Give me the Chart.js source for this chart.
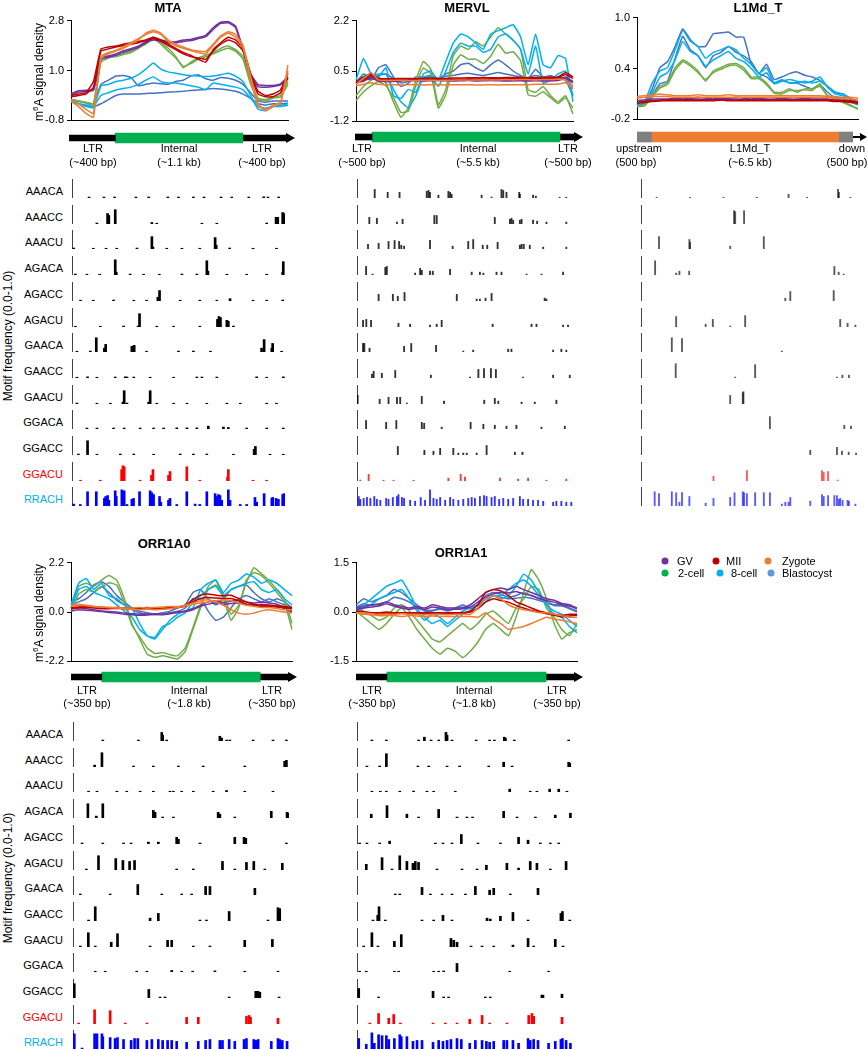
<!DOCTYPE html>
<html><head><meta charset="utf-8">
<script src="https://cdn.jsdelivr.net/npm/chart.js@4.4.0/dist/chart.umd.min.js"></script>
<style>
body{margin:0;background:#fff;}
#page{position:relative;width:867px;height:1050px;overflow:hidden;font-family:"Liberation Sans",Arial,sans-serif;color:#000;background:#fff;}
canvas{position:absolute;}
.t{position:absolute;white-space:nowrap;font-size:11px;line-height:1;}
.dot{position:absolute;width:7px;height:7px;border-radius:50%;transform:translate(-50%,-50%);}
</style></head><body><div id="page"></div>
<script>
// ---------------- DATA ----------------
const stageNames = ['GV','MII','Zygote','2-cell','8-cell','Blastocyst'];
const motifNames = ['AAACA','AAACC','AAACU','AGACA','AGACC','AGACU','GAACA','GAACC','GAACU','GGACA','GGACC','GGACU','RRACH'];

// y tick labels (ascending)
const mtaTicks = ['-0.8','1.0','2.8'];
const mervlTicks = ['-1.2','0.5','2.2'];
const l1mdTicks = ['-0.2','0.4','1.0'];
const orr0Ticks = ['-2.2','0.0','2.2'];
const orr1Ticks = ['-1.5','0.0','1.5'];

// gene structure segment lengths (bp)
const mtaGene = [400,1100,400];
const mervlGene = [500,5500,500];
const l1mdGene = [500,6500,500];
const orr0Gene = [350,1800,350];
const orr1Gene = [350,1800,350];

// ---- MTA m6A signal (two replicates per stage) ----
const mtaGV = [
 [0.16,0.27,0.29,0.3,1.49,1.52,1.6,1.71,1.79,1.88,2.04,2.16,2.1,2.04,2.04,2.1,2.12,2.19,2.27,2.54,2.74,2.77,2.6,1.77,0.88,0.49,0.46,0.46,0.52,0.77],
 [0.1,0.22,0.25,0.28,1.4,1.48,1.55,1.66,1.75,1.83,2.0,2.1,2.06,2.0,2.0,2.05,2.08,2.15,2.22,2.48,2.7,2.72,2.55,1.7,0.8,0.42,0.4,0.42,0.48,0.7]];
const mtaMII = [
 [0.1,0.15,0.2,0.6,1.77,1.85,1.88,1.95,2.0,2.05,2.1,2.2,2.1,1.95,1.8,1.65,1.55,1.4,1.3,1.75,2.0,2.2,2.1,1.8,0.9,0.25,0.1,0.15,0.3,0.9],
 [0.05,0.1,0.15,0.4,1.7,1.78,1.85,1.9,1.95,2.0,2.08,2.15,2.05,1.9,1.75,1.6,1.5,1.45,1.4,1.7,1.95,2.1,2.0,1.7,0.8,0.15,0.05,0.05,0.2,0.75]];
const mtaZygote = [
 [-0.12,-0.3,-0.55,-0.68,1.45,1.6,1.7,1.8,1.95,2.1,2.35,2.45,2.35,2.1,1.95,1.85,1.75,1.7,1.68,1.95,2.25,2.4,2.3,1.9,0.8,-0.2,-0.45,-0.3,-0.2,1.2],
 [-0.05,-0.2,-0.4,-0.55,1.5,1.65,1.72,1.85,2.0,2.15,2.3,2.4,2.3,2.05,1.9,1.8,1.72,1.65,1.6,1.9,2.2,2.35,2.2,1.8,0.7,-0.3,-0.4,-0.25,-0.15,1.0]];
const mta2cell = [
 [-0.05,-0.1,-0.15,-0.2,1.4,1.5,1.55,1.6,1.7,1.85,2.0,2.2,2.0,1.8,1.5,1.1,1.3,1.45,1.55,1.65,1.8,1.88,1.75,1.5,0.6,0.0,-0.05,0.05,0.1,0.6],
 [-0.1,-0.12,-0.18,-0.25,1.3,1.45,1.5,1.58,1.65,1.8,1.95,2.15,1.95,1.7,1.45,1.15,1.25,1.4,1.5,1.6,1.72,1.8,1.7,1.4,0.5,-0.05,-0.1,0.0,0.05,0.5]];
const mta8cell = [
 [-0.05,-0.2,-0.3,-0.35,0.45,0.5,0.6,0.65,0.72,0.85,1.05,1.27,1.05,0.95,0.9,0.85,0.82,0.8,0.78,0.8,0.85,0.9,0.8,0.6,0.1,-0.4,-0.45,-0.3,-0.25,-0.2],
 [-0.1,-0.2,-0.25,-0.3,0.1,0.2,0.3,0.35,0.4,0.5,0.65,0.77,0.6,0.55,0.55,0.5,0.45,0.4,0.3,0.55,0.5,0.45,0.4,0.3,0.0,-0.3,-0.35,-0.3,-0.3,-0.25]];
const mtaBlast = [
 [-0.05,-0.1,-0.15,-0.2,0.5,0.65,0.8,0.82,0.75,0.45,0.5,0.55,0.52,0.5,0.6,0.65,0.8,0.85,0.7,0.65,0.75,0.72,0.65,0.5,0.2,-0.1,-0.15,-0.1,-0.1,-0.1],
 [-0.1,-0.2,-0.25,-0.3,-0.2,-0.05,0.1,0.15,0.15,0.15,0.17,0.18,0.2,0.22,0.23,0.25,0.28,0.3,0.32,0.35,0.33,0.3,0.25,0.15,0.0,-0.2,-0.25,-0.2,-0.2,-0.18]];

// ---- MERVL ----
const mervlGV = [
 [0.1,0.15,0.3,0.15,0.16,0.17,0.2,0.22,0.2,0.18,0.2,0.22,0.2,0.19,0.2,0.21,0.2,0.19,0.2,0.22,0.2,0.18,0.19,0.2,0.19,0.2,0.18,0.2,0.3,0.15],
 [0.12,0.18,0.25,0.18,0.14,0.15,0.16,0.18,0.17,0.16,0.17,0.18,0.17,0.16,0.17,0.18,0.16,0.17,0.18,0.17,0.16,0.17,0.17,0.16,0.17,0.16,0.17,0.18,0.25,0.1]];
const mervlMII = [
 [0.15,0.3,0.4,0.25,0.24,0.24,0.25,0.25,0.24,0.25,0.26,0.25,0.25,0.26,0.26,0.27,0.27,0.28,0.27,0.27,0.28,0.28,0.28,0.27,0.28,0.28,0.29,0.3,0.45,0.3],
 [0.1,0.2,0.35,0.2,0.2,0.2,0.21,0.2,0.2,0.21,0.22,0.21,0.22,0.22,0.22,0.23,0.23,0.23,0.24,0.23,0.24,0.24,0.24,0.25,0.25,0.25,0.25,0.27,0.38,0.25]];
const mervlZygote = [
 [0.05,0.25,0.45,0.2,0.18,0.18,0.19,0.18,0.18,0.19,0.19,0.18,0.19,0.19,0.2,0.19,0.2,0.2,0.2,0.2,0.21,0.2,0.21,0.21,0.2,0.21,0.21,0.22,0.2,0.0],
 [0.0,0.05,0.1,0.05,0.04,0.04,0.03,0.04,0.04,0.03,0.04,0.04,0.03,0.04,0.04,0.04,0.03,0.03,0.04,0.03,0.04,0.04,0.04,0.04,0.05,0.05,0.05,0.06,0.1,-0.07]];
const mervl2cell = [
 [-0.33,-0.02,0.19,0.3,0.09,-0.54,-1.06,-0.74,0.19,0.82,0.56,-0.64,-0.12,1.02,1.34,1.23,1.49,1.34,1.65,1.96,1.75,1.54,1.23,-0.12,-0.22,-0.02,-0.33,-0.54,-0.33,-0.95],
 [-0.5,-0.2,0.0,0.15,0.0,-0.4,-0.9,-0.85,0.0,0.6,0.4,-0.75,-0.3,0.7,1.05,0.9,0.9,0.75,1.0,1.4,1.1,1.15,0.85,-0.3,-0.35,-0.2,-0.4,-0.6,-0.4,-0.75]];
const mervl8cell = [
 [0.19,0.92,0.4,0.3,0.61,-0.33,-0.43,-0.12,-0.22,0.4,0.5,0.19,0.82,1.44,1.75,1.65,1.44,1.23,1.75,1.86,1.96,2.06,1.65,0.71,1.75,0.71,0.61,1.02,0.92,-0.54],
 [0.09,0.4,0.3,0.4,0.4,-0.12,-0.54,-0.74,-0.33,0.3,0.3,-0.02,0.5,1.13,1.44,1.34,1.34,1.13,1.23,1.65,1.75,1.54,1.23,0.4,1.34,0.09,0.19,0.4,0.5,-0.33]];
const mervlBlast = [
 [0.09,0.4,0.19,0.61,0.71,0.3,-0.02,0.09,0.3,0.3,0.35,0.24,0.4,0.5,0.71,0.76,0.61,0.5,0.71,0.87,0.71,0.5,0.35,0.24,0.56,0.3,0.35,0.24,0.19,-0.33],
 [0.15,0.25,0.2,0.35,0.4,0.25,0.1,0.15,0.25,0.28,0.3,0.25,0.32,0.35,0.4,0.42,0.38,0.35,0.4,0.45,0.4,0.35,0.3,0.28,0.35,0.3,0.3,0.28,0.25,-0.1]];

// ---- L1Md_T ----
const l1mdGV = [
 [0.02,0.03,0.04,0.04,0.04,0.05,0.04,0.05,0.06,0.05,0.04,0.05,0.05,0.06,0.05,0.04,0.05,0.04,0.04,0.05,0.04,0.04,0.05,0.04,0.04,0.04,0.03,0.03,0.02,0.01],
 [0.0,0.01,0.02,0.03,0.03,0.03,0.03,0.04,0.04,0.03,0.03,0.04,0.04,0.04,0.03,0.03,0.04,0.03,0.03,0.03,0.03,0.03,0.03,0.03,0.03,0.03,0.02,0.02,0.01,0.0]];
const l1mdMII = [
 [0.0,0.01,0.02,0.02,0.03,0.03,0.03,0.03,0.03,0.03,0.03,0.03,0.03,0.03,0.03,0.03,0.03,0.03,0.03,0.03,0.03,0.03,0.03,0.03,0.03,0.03,0.02,0.02,0.02,0.0],
 [-0.01,0.0,0.01,0.02,0.02,0.02,0.02,0.02,0.02,0.02,0.02,0.03,0.02,0.02,0.02,0.02,0.02,0.02,0.02,0.02,0.02,0.02,0.02,0.02,0.02,0.02,0.01,0.01,0.0,-0.01]];
const l1mdZygote = [
 [0.07,0.08,0.09,0.1,0.09,0.08,0.08,0.08,0.09,0.08,0.08,0.08,0.09,0.08,0.08,0.08,0.08,0.08,0.08,0.08,0.08,0.08,0.08,0.08,0.08,0.07,0.07,0.06,0.06,0.05],
 [0.05,0.06,0.07,0.07,0.07,0.06,0.06,0.06,0.06,0.06,0.06,0.06,0.06,0.06,0.06,0.06,0.06,0.06,0.06,0.06,0.06,0.06,0.06,0.06,0.06,0.06,0.05,0.05,0.04,0.03]];
const l1md2cell = [
 [-0.04,-0.03,0.08,0.19,0.23,0.41,0.5,0.45,0.37,0.25,0.37,0.41,0.45,0.46,0.41,0.3,0.3,0.23,0.12,0.12,0.16,0.12,0.16,0.16,0.19,0.08,0.05,0.01,-0.03,-0.08],
 [-0.05,-0.04,0.06,0.17,0.21,0.38,0.48,0.43,0.35,0.27,0.35,0.39,0.43,0.44,0.38,0.28,0.28,0.21,0.11,0.1,0.14,0.14,0.15,0.14,0.22,0.07,0.04,0.0,-0.04,-0.07]];
const l1md8cell = [
 [-0.03,0.01,0.23,0.37,0.41,0.62,0.85,0.72,0.66,0.52,0.59,0.62,0.66,0.62,0.52,0.45,0.34,0.41,0.23,0.27,0.23,0.23,0.25,0.23,0.25,0.19,0.12,0.1,0.04,-0.03],
 [-0.02,0.0,0.12,0.3,0.35,0.5,0.72,0.6,0.55,0.43,0.5,0.55,0.6,0.52,0.48,0.4,0.3,0.35,0.22,0.25,0.27,0.25,0.23,0.25,0.3,0.18,0.1,0.08,0.03,-0.02]];
const l1mdBlast = [
 [-0.03,-0.01,0.16,0.41,0.48,0.66,0.87,0.74,0.66,0.66,0.81,0.82,0.83,0.77,0.77,0.45,0.34,0.3,0.23,0.26,0.23,0.23,0.19,0.16,0.21,0.12,0.06,0.05,0.01,-0.03],
 [-0.03,-0.01,0.09,0.22,0.25,0.52,0.78,0.62,0.55,0.41,0.55,0.59,0.66,0.59,0.55,0.48,0.34,0.45,0.27,0.3,0.34,0.36,0.32,0.3,0.26,0.19,0.12,0.1,0.05,0.0]];

// ---- ORR1A0 ----
const orr0GV = [
 [0.15,0.2,0.15,0.1,0.05,0.02,0.0,-0.05,-0.08,-0.1,-0.1,-0.08,-0.1,-0.05,0.0,0.05,0.15,0.3,0.45,0.5,0.42,0.48,0.52,0.45,0.4,0.45,0.4,0.35,0.2,0.05],
 [0.05,0.1,0.08,0.05,0.02,-0.02,-0.05,-0.1,-0.12,-0.15,-0.13,-0.1,-0.12,-0.08,-0.02,0.02,0.1,0.25,0.35,0.4,0.35,0.38,0.4,0.35,0.3,0.35,0.3,0.25,0.15,0.0]];
const orr0MII = [
 [0.2,0.22,0.25,0.22,0.2,0.18,0.2,0.18,0.17,0.18,0.2,0.18,0.17,0.2,0.22,0.3,0.55,0.75,0.8,0.75,0.72,0.75,0.6,0.45,0.35,0.3,0.3,0.28,0.25,0.2],
 [0.15,0.18,0.2,0.18,0.15,0.15,0.16,0.15,0.14,0.15,0.16,0.15,0.15,0.17,0.2,0.25,0.45,0.6,0.65,0.62,0.6,0.6,0.5,0.35,0.3,0.25,0.25,0.22,0.2,0.15]];
const orr0Zygote = [
 [0.3,0.35,0.3,0.25,0.22,0.2,0.18,0.15,0.12,0.1,0.12,0.1,0.12,0.15,0.2,0.3,0.4,0.5,0.55,0.45,0.3,0.1,-0.05,-0.1,-0.05,0.05,0.1,0.05,0.0,-0.05],
 [0.25,0.3,0.28,0.25,0.22,0.2,0.2,0.18,0.18,0.2,0.18,0.2,0.22,0.25,0.25,0.28,0.35,0.4,0.45,0.5,0.55,0.5,0.4,0.3,0.25,0.2,0.2,0.15,0.1,0.1]];
const orr02cell = [
 [0.18,1.14,1.28,1.14,1.42,1.62,1.42,0.59,-0.51,-1.2,-1.88,-2.02,-1.95,-2.02,-2.09,-1.75,-0.78,0.18,1.14,1.42,0.59,-0.37,0.18,1.42,1.76,1.62,1.28,0.87,0.45,-0.78],
 [0.0,0.8,1.0,0.9,1.1,1.3,1.2,0.4,-0.6,-1.1,-1.6,-1.85,-1.8,-1.9,-1.95,-1.6,-0.7,0.3,1.0,1.2,0.8,-0.1,0.3,1.3,1.97,1.7,1.4,1.0,0.6,-0.5]];
const orr08cell = [
 [0.32,1.28,1.49,1.0,1.28,0.73,0.59,0.32,0.18,-0.51,-1.06,-1.2,-0.78,-0.37,-0.1,0.04,0.18,1.0,1.28,1.42,0.87,1.28,1.42,1.69,1.55,1.28,1.42,1.28,1.0,0.73],
 [0.18,1.0,1.14,0.87,0.73,0.59,0.32,0.04,-0.23,-0.78,-1.06,-1.13,-0.65,-0.51,-0.23,-0.03,0.45,0.73,1.0,1.14,0.73,1.0,1.14,1.28,1.35,1.0,0.87,1.0,0.59,0.32]];
const orr0Blast = [
 [0.45,0.59,0.87,1.21,1.35,1.14,0.73,0.45,0.18,0.04,-0.03,-0.1,-0.03,0.04,0.18,0.32,0.87,1.0,0.59,0.32,0.59,1.0,1.14,1.21,0.87,0.59,0.45,0.59,0.45,0.18],
 [0.32,0.45,0.59,0.87,1.14,0.87,0.52,0.32,0.11,-0.03,-0.1,-0.12,-0.1,-0.03,0.04,0.18,0.59,0.59,0.04,-0.37,-0.23,0.18,0.59,0.73,0.59,0.45,0.59,0.45,0.32,0.18]];

// ---- ORR1A1 ----
const orr1GV = [
 [0.12,0.17,0.22,0.22,0.31,0.22,0.17,0.12,0.17,0.12,0.22,0.17,0.12,0.12,0.12,0.22,0.4,0.59,0.68,0.73,0.68,0.78,0.68,0.59,0.5,0.4,0.36,0.26,0.22,0.12],
 [0.08,0.12,0.15,0.18,0.25,0.18,0.12,0.08,0.12,0.08,0.15,0.12,0.08,0.08,0.1,0.15,0.3,0.45,0.55,0.6,0.58,0.62,0.55,0.5,0.42,0.35,0.3,0.22,0.18,0.1]];
const orr1MII = [
 [0.03,0.01,-0.02,-0.02,0.0,-0.02,-0.02,-0.02,-0.02,-0.02,-0.02,-0.02,-0.02,-0.02,-0.02,0.03,0.22,0.59,0.68,0.64,0.5,0.31,0.22,0.12,0.03,-0.02,-0.07,-0.11,-0.07,-0.07],
 [0.0,-0.02,-0.03,-0.04,-0.03,-0.04,-0.03,-0.04,-0.04,-0.03,-0.04,-0.04,-0.03,-0.04,-0.03,0.0,0.1,0.3,0.4,0.35,0.3,0.2,0.12,0.05,0.0,-0.05,-0.1,-0.15,-0.12,-0.1]];
const orr1Zygote = [
 [-0.02,-0.02,-0.05,-0.07,-0.07,-0.07,-0.05,-0.07,-0.07,-0.08,-0.07,-0.07,-0.08,-0.07,-0.07,-0.07,0.12,0.4,0.5,0.4,0.22,0.12,0.07,0.03,-0.02,-0.02,-0.07,-0.11,-0.16,-0.16],
 [-0.02,-0.07,-0.08,-0.11,-0.11,-0.11,-0.14,-0.11,-0.12,-0.14,-0.12,-0.13,-0.14,-0.14,-0.14,-0.14,-0.16,-0.02,-0.21,-0.35,-0.53,-0.49,-0.44,-0.35,-0.25,-0.16,-0.21,-0.25,-0.3,-0.35]];
const orr12cell = [
 [0.03,-0.16,-0.35,-0.53,-0.35,-0.07,0.12,-0.16,-0.53,-0.82,-1.1,-1.28,-1.1,-1.19,-1.38,-1.19,-0.91,-0.53,-0.35,-0.53,-0.72,-0.16,0.59,1.29,0.97,0.4,-0.35,-0.82,-0.63,-0.53],
 [0.12,0.03,-0.11,-0.25,-0.16,0.12,0.22,0.03,-0.25,-0.53,-0.82,-0.91,-0.72,-0.53,-0.35,-0.53,-0.35,-0.07,0.03,-0.16,-0.35,0.12,0.4,0.78,0.68,0.12,-0.16,-0.53,-0.72,-0.35]];
const orr18cell = [
 [0.12,0.22,0.4,0.59,0.78,0.87,0.97,0.59,0.12,-0.16,-0.35,-0.25,-0.44,-0.25,-0.07,0.03,0.12,0.31,0.5,0.4,0.5,0.78,1.15,0.97,0.59,0.22,-0.07,-0.16,-0.44,-0.63],
 [0.03,0.12,0.22,0.4,0.5,0.59,0.68,0.4,0.03,-0.25,-0.07,-0.16,-0.35,-0.16,0.03,0.12,0.22,0.4,0.5,0.5,0.68,0.87,0.97,0.78,0.5,0.22,0.03,-0.07,-0.25,-0.44]];
const orr1Blast = [
 [0.22,0.4,0.31,0.4,0.5,0.68,0.59,0.4,0.22,0.03,0.03,0.12,0.03,0.12,0.22,0.12,0.22,0.5,0.59,0.54,0.45,0.5,0.59,0.5,0.4,0.31,0.22,0.22,0.12,0.03],
 [0.15,0.25,0.2,0.25,0.3,0.45,0.4,0.3,0.15,0.05,0.05,0.08,0.05,0.1,0.15,0.1,0.2,0.4,0.5,0.45,0.4,0.42,0.45,0.42,0.35,0.28,0.2,0.18,0.1,0.0]];

// ---- Motif frequency peaks: [relative position 0-100, frequency 0-1], in motifNames order ----
const mtaPeaks = [
 [[8,0.05],[15,0.05],[20,0.05],[30,0.05],[36,0.05],[45,0.05],[50,0.05],[57,0.05],[62,0.05],[70,0.05],[75,0.05],[83,0.05],[90,0.06],[92,0.05],[97,0.05]],
 [[11.7,0.05],[16.7,0.55],[17.3,0.45],[20.3,0.75],[37.5,0.08],[39.8,0.04],[61,0.04],[68,0.04],[91.4,0.05],[95.8,0.35],[96.6,0.35],[98.9,0.6],[99.4,0.55]],
 [[0.8,0.05],[10,0.04],[16,0.04],[21,0.04],[30.5,0.05],[37.5,0.65],[38,0.1],[44.5,0.04],[51.6,0.04],[60,0.04],[67.2,0.6],[67.7,0.2],[74,0.05],[85,0.04],[96,0.04]],
 [[1.6,0.05],[7,0.04],[13,0.04],[20.3,0.8],[20.8,0.15],[27.3,0.05],[33.6,0.04],[41,0.04],[51.6,0.05],[58.6,0.05],[63.3,0.75],[63.8,0.2],[72.7,0.04],[82,0.04],[91.4,0.04],[98.9,0.15],[99.2,0.7]],
 [[4,0.04],[10,0.04],[19.5,0.05],[29,0.04],[35,0.04],[40.3,0.2],[41.1,0.55],[50.8,0.04],[60,0.04],[68,0.04],[74.2,0.12],[85,0.04],[91.4,0.04],[98.9,0.05]],
 [[1.6,0.04],[13.3,0.04],[24.2,0.05],[31,0.05],[31.7,0.7],[39.8,0.04],[47.7,0.04],[60,0.04],[68.3,0.4],[69,0.55],[69.7,0.5],[72.7,0.35],[73.4,0.3],[75.8,0.05]],
 [[2.3,0.04],[8.6,0.05],[11.4,0.75],[15.2,0.2],[15.8,0.4],[28.1,0.3],[29.2,0.35],[35,0.04],[50,0.05],[57,0.05],[65,0.04],[89,0.2],[90.2,0.65],[93.8,0.2],[94.2,0.45],[98.4,0.04]],
 [[2.3,0.04],[7.3,0.06],[11.7,0.04],[20.3,0.05],[25,0.06],[25.8,0.05],[29,0.05],[36.7,0.04],[47.7,0.04],[58.6,0.05],[61,0.05],[68,0.05],[86.7,0.06],[91.4,0.04],[99.2,0.06]],
 [[2.3,0.05],[11.7,0.04],[18,0.04],[23.9,0.1],[24.5,0.7],[25.8,0.05],[36,0.1],[36.7,0.7],[39.8,0.04],[47.7,0.04],[54,0.04],[63.3,0.04],[72.7,0.04],[79,0.04],[91.4,0.04],[96,0.04]],
 [[7,0.05],[11.7,0.05],[19.5,0.05],[24.5,0.05],[32,0.05],[38.3,0.05],[43,0.05],[49.2,0.06],[54,0.06],[58.6,0.06],[64,0.15],[71.1,0.1],[73.4,0.08],[82,0.05],[91.4,0.05],[99.2,0.05]],
 [[3,0.05],[7.3,0.75],[11.7,0.04],[22.7,0.05],[29,0.05],[38.3,0.04],[50.8,0.05],[57,0.05],[63.3,0.05],[75.8,0.04],[85.5,0.3],[86.1,0.45],[93,0.04],[99.2,0.04]],
 [[4,0.04],[13.3,0.04],[23.3,0.6],[23.9,0.8],[24.5,0.75],[32,0.04],[37.3,0.3],[38,0.6],[45.3,0.3],[46,0.5],[53.9,0.75],[60,0.04],[73,0.2],[73.4,0.6],[85,0.04],[91.4,0.04]],
 [[0.8,0.1],[3.9,0.08],[7.3,0.75],[11.4,0.75],[15.2,0.4],[15.8,0.5],[16.7,0.55],[17.3,0.3],[20.3,0.8],[20.8,0.5],[23.4,0.85],[24,0.75],[24.5,0.8],[25.8,0.08],[28.1,0.35],[28.9,0.4],[31.7,0.75],[36.7,0.8],[37.5,0.7],[38.3,0.6],[41.1,0.5],[41.7,0.2],[45.3,0.3],[46,0.4],[49.2,0.08],[53.9,0.75],[57.8,0.1],[60,0.08],[63.3,0.75],[67.2,0.65],[68,0.5],[68.8,0.6],[69.5,0.55],[70.3,0.3],[73.4,0.85],[74.2,0.3],[79,0.08],[82,0.08],[85.9,0.45],[86.7,0.2],[90.2,0.65],[93.8,0.4],[94.2,0.45],[95.8,0.4],[96.9,0.35],[98.9,0.6],[99.5,0.65]]
];
const mervlPeaks = [
 [[8.2,0.45],[14.2,0.3],[19.7,0.3],[32.3,0.35],[33.1,0.4],[33.8,0.3],[37.7,0.15],[42.3,0.35],[43.1,0.3],[43.8,0.2],[57.7,0.15],[62.3,0.05],[66.9,0.45],[67.7,0.4],[69.2,0.3],[75.1,0.3],[75.4,0.2],[81.5,0.15],[82.8,0.1],[93.8,0.04],[96.9,0.04]],
 [[5.7,0.35],[9.2,0.3],[18.5,0.1],[21.1,0.25],[35.8,0.45],[36.9,0.45],[63.8,0.35],[70.8,0.25],[71.5,0.3],[72.3,0.2],[75.4,0.2],[76.2,0.25],[81.5,0.2],[83.4,0.15],[87.7,0.1],[96.9,0.1]],
 [[5.1,0.25],[10,0.3],[14.6,0.4],[17.4,0.45],[19.5,0.4],[20.5,0.2],[21.8,0.15],[33.8,0.45],[44.3,0.15],[51.5,0.4],[53.8,0.5],[58.2,0.2],[60.3,0.2],[65.1,0.35],[75.4,0.2],[76.2,0.25],[77.2,0.25],[80,0.2],[86.2,0.1],[96.9,0.1]],
 [[4.2,0.45],[7.2,0.05],[13.1,0.4],[13.8,0.45],[26.9,0.1],[29.2,0.35],[30,0.25],[33.8,0.2],[35.1,0.2],[43.1,0.3],[53.1,0.15],[56.9,0.15],[58.5,0.1],[64.6,0.15],[66.9,0.15],[78.5,0.05],[85.4,0.05],[95.4,0.15]],
 [[10,0.35],[16.6,0.35],[18.9,0.25],[22,0.45],[46.2,0.35],[55.4,0.1],[56.9,0.1],[59.5,0.15],[62.3,0.4],[86.9,0.15],[87.7,0.1]],
 [[2.8,0.35],[4.3,0.4],[6.5,0.35],[19.2,0.2],[24.6,0.15],[33.8,0.1],[36.9,0.15],[39.2,0.35],[62.8,0.15],[80.8,0.15],[83.1,0.15],[95.4,0.1],[97.7,0.1]],
 [[2.8,0.45],[3.4,0.45],[5.8,0.2],[21.8,0.3],[25.1,0.45],[36.6,0.35],[49.2,0.05],[53.8,0.1],[70,0.15],[71.5,0.15],[90.8,0.1],[94.6,0.15],[96.9,0.1]],
 [[6.9,0.2],[7.7,0.35],[11.5,0.25],[17.7,0.4],[34.2,0.15],[52.3,0.05],[56.2,0.45],[58.8,0.5],[62,0.5],[64.3,0.45],[76.9,0.05],[90.8,0.15],[98.5,0.15]],
 [[0.3,0.45],[10.5,0.25],[14.6,0.35],[18.5,0.35],[20,0.35],[23.1,0.05],[30,0.4],[40.3,0.15],[58.9,0.2],[63.8,0.3],[65.4,0.15],[76.2,0.1],[82.3,0.1],[92.3,0.2]],
 [[4.2,0.45],[13.5,0.35],[18.2,0.45],[30,0.35],[31.1,0.3],[39.2,0.1],[52.6,0.35],[58.5,0.25],[63.8,0.2],[69.2,0.15],[73.8,0.2],[85.4,0.1],[96.2,0.15]],
 [[18.9,0.45],[31.2,0.25],[35.4,0.2],[38.5,0.35],[44.6,0.35],[46.9,0.1],[49.2,0.1],[50.8,0.1],[55.4,0.1],[60,0.5],[73.1,0.15],[76.6,0.15]],
 [[1.5,0.05],[5.4,0.35],[12.3,0.04],[16.9,0.04],[26.2,0.04],[42.3,0.15],[48,0.35],[50,0.2],[66.2,0.15],[74.6,0.1],[79.2,0.15],[87.7,0.04],[96.9,0.1]],
 [[0.8,0.5],[1.5,0.35],[3.1,0.4],[4.6,0.45],[6.2,0.4],[8,0.5],[9.2,0.35],[10.8,0.3],[13.5,0.4],[14.6,0.35],[16.6,0.45],[18.5,0.5],[19.2,0.6],[20.8,0.45],[21.8,0.4],[24.6,0.3],[26.9,0.25],[29.5,0.45],[31.5,0.3],[33.8,0.85],[35.4,0.4],[36.9,0.35],[38.5,0.45],[40.8,0.3],[43.1,0.45],[44.6,0.35],[46.9,0.3],[49.2,0.35],[51.5,0.4],[53.1,0.45],[54.6,0.4],[56.9,0.5],[58.8,0.55],[60,0.5],[62.3,0.45],[63.8,0.5],[65.8,0.35],[67.7,0.4],[70,0.35],[72.3,0.4],[75.4,0.5],[76.9,0.35],[79.2,0.35],[81.5,0.3],[83.8,0.3],[86.2,0.25],[90.8,0.2],[92.3,0.25],[94.6,0.25],[96.9,0.2],[99.2,0.2]]
];
const l1mdPeaks = [
 [[7.2,0.04],[22.6,0.04],[38,0.04],[53.4,0.04],[68,0.2],[76.5,0.04],[90.8,0.45],[91.2,0.3],[96.5,0.04]],
 [[42.9,0.7],[43.4,0.65],[47.5,0.7]],
 [[8.3,0.65],[22.3,0.5],[22.6,0.35],[41.1,0.15],[56.6,0.65]],
 [[6.5,0.75],[16.2,0.1],[17.7,0.2],[22.2,0.2],[89.1,0.45],[91.1,0.15],[93.4,0.05]],
 [[66.5,0.15],[68.8,0.5],[88.8,0.55]],
 [[16.2,0.55],[29.8,0.15],[33.1,0.4],[41.1,0.05],[48,0.6],[91.8,0.4],[95.2,0.2],[98.8,0.1]],
 [[14.2,0.75],[18.9,0.7],[64.9,0.05]],
 [[16,0.75],[43.4,0.05],[52.6,0.7],[90.3,0.05],[92.8,0.15],[95.8,0.15]],
 [[41.1,0.45],[46.9,0.6],[47.2,0.65]],
 [[59.4,0.65],[93.7,0.2],[96.8,0.15]],
 [[78,0.25],[90.3,0.4],[92.6,0.2],[95.7,0.15],[99.1,0.1]],
 [[33.4,0.25],[48.8,0.55],[83.4,0.55],[84.2,0.45],[86.2,0.5],[90.6,0.05]],
 [[6.3,0.75],[8.3,0.65],[14.2,0.75],[16.2,0.7],[17.7,0.2],[18.9,0.7],[22.3,0.5],[29.8,0.15],[33.4,0.4],[41.1,0.45],[43.1,0.7],[46.9,0.75],[47.5,0.7],[48.8,0.65],[52.6,0.7],[56.6,0.7],[59.4,0.7],[64.9,0.1],[66.5,0.2],[68,0.2],[68.8,0.45],[78,0.25],[83.4,0.6],[84.2,0.5],[86.2,0.55],[89.1,0.55],[90.3,0.55],[91.1,0.35],[91.8,0.4],[92.9,0.3],[95.2,0.3],[95.8,0.25],[98.8,0.1]]
];
const orr0Peaks = [
 [[13.8,0.05],[30.3,0.05],[41.1,0.45],[41.5,0.3],[43.4,0.05],[68,0.25],[68.8,0.15],[71.1,0.05],[72.6,0.05],[83.4,0.05],[92.6,0.05],[98.8,0.05]],
 [[10,0.1],[13.4,0.75],[28,0.05],[37.2,0.05],[48.8,0.05],[60.3,0.05],[79.5,0.05],[98,0.3],[98.8,0.35]],
 [[7.2,0.04],[11.1,0.04],[20.3,0.04],[24.9,0.04],[31.1,0.04],[37.2,0.04],[44.9,0.04],[46.5,0.04],[50.3,0.04],[55.7,0.04],[64.9,0.04],[71.1,0.08],[79.5,0.04],[92.6,0.04]],
 [[6.9,0.75],[10.8,0.1],[13.8,0.75],[37.2,0.4],[38,0.3],[41.5,0.05],[46.5,0.05],[67.2,0.3],[68,0.2],[74.9,0.05],[91.8,0.35],[99.1,0.3],[99.5,0.25]],
 [[4.2,0.05],[13.8,0.05],[23.4,0.05],[26.9,0.05],[34.9,0.1],[39.5,0.1],[48,0.35],[48.8,0.25],[58.8,0.05],[74.9,0.35],[79.2,0.35],[80,0.3],[98.8,0.05]],
 [[6.2,0.05],[11.8,0.75],[19.8,0.6],[23.1,0.5],[26.2,0.45],[28.5,0.5],[48,0.05],[55.7,0.05],[69.2,0.45],[74.9,0.05],[80.3,0.4],[83.7,0.45],[88.8,0.05],[96.9,0.35]],
 [[3.4,0.05],[17.2,0.05],[30,0.55],[41.1,0.05],[50.3,0.05],[54.9,0.05],[61.4,0.45],[63.4,0.45],[84.2,0.35]],
 [[7.2,0.05],[10.3,0.75],[35.7,0.15],[39.5,0.4],[58.8,0.05],[61.8,0.05],[72.3,0.5],[90.3,0.05],[94.9,0.7],[95.7,0.65]],
 [[3.4,0.05],[7.1,0.75],[10.3,0.05],[17.7,0.25],[20.6,0.7],[35.7,0.05],[43.8,0.35],[45.7,0.35],[55.7,0.05],[63.4,0.05],[79.5,0.35],[92.3,0.4]],
 [[10.3,0.04],[14.9,0.04],[29.5,0.04],[34.2,0.04],[45.7,0.08],[50.3,0.04],[55.4,0.04],[65.7,0.06],[79.5,0.04],[94.9,0.04]],
 [[0.6,0.75],[35.1,0.45],[40.3,0.05],[42.6,0.05],[72.3,0.05],[84.6,0.35],[85.7,0.35],[86.5,0.3],[95.4,0.05]],
 [[2.6,0.05],[10,0.75],[17.2,0.7],[24.2,0.05],[34.2,0.05],[52.6,0.35],[58,0.35],[80.3,0.4],[81.5,0.45],[82.2,0.35],[94.9,0.3]],
 [[0.6,0.8],[4.2,0.05],[10,0.8],[11.1,0.8],[13.4,0.8],[13.8,0.65],[17.2,0.6],[19.5,0.55],[20.6,0.6],[23.4,0.5],[26.9,0.45],[28.5,0.55],[30,0.55],[34.2,0.45],[36.5,0.5],[39.5,0.5],[41.5,0.45],[43.8,0.45],[45.7,0.45],[48,0.4],[52.6,0.35],[58,0.4],[61.4,0.45],[63.4,0.5],[68,0.45],[69.2,0.45],[72.3,0.5],[74.9,0.4],[79.2,0.5],[80.3,0.55],[83.7,0.5],[84.6,0.45],[85.7,0.5],[91.8,0.4],[94.9,0.55],[95.7,0.5],[96.9,0.45],[99.1,0.4]]
];
const orr1Peaks = [
 [[6.9,0.05],[13.6,0.05],[28.5,0.05],[31.2,0.2],[34.3,0.05],[37.8,0.05],[41.2,0.45],[41.7,0.3],[44,0.05],[55.2,0.05],[61.4,0.05],[63.6,0.05],[68.2,0.2],[68.7,0.15],[72.8,0.05],[98,0.05]],
 [[4.6,0.05],[10.5,0.05],[13.6,0.7],[28.2,0.05],[33.2,0.05],[41.7,0.05],[47.5,0.05],[61,0.05],[67.9,0.25],[71.8,0.05],[98,0.25],[98.5,0.2]],
 [[6.9,0.04],[10.8,0.04],[13.6,0.04],[19.8,0.04],[26.2,0.05],[32.4,0.04],[35.5,0.04],[45.5,0.04],[70.7,0.15],[80.2,0.04],[83.3,0.04],[89.2,0.15],[93.4,0.15],[97.2,0.04]],
 [[6.6,0.2],[13.9,0.65],[23.1,0.2],[28.5,0.05],[37.8,0.45],[46.3,0.05],[50.9,0.05],[53.5,0.05],[67.9,0.35],[74.1,0.05],[82.6,0.05],[91.8,0.15],[98.8,0.25]],
 [[1.2,0.05],[4.6,0.05],[10.5,0.05],[15.1,0.15],[36.3,0.05],[39.8,0.05],[44,0.05],[48.3,0.5],[56,0.05],[66.4,0.05],[74.8,0.35],[79.2,0.2],[84.9,0.05],[89.5,0.05],[93.4,0.05]],
 [[4.3,0.3],[11.6,0.65],[16.2,0.05],[19.8,0.75],[23.1,0.45],[25.9,0.35],[27,0.45],[28.5,0.4],[37,0.05],[48.6,0.05],[55.6,0.05],[59.9,0.25],[69.4,0.35],[74.8,0.1],[80.2,0.45],[83.3,0.35],[89.5,0.05],[96.8,0.45]],
 [[17.7,0.05],[19.8,0.05],[30.1,0.4],[34,0.05],[39.4,0.05],[44,0.05],[50.2,0.05],[54.8,0.45],[61.4,0.25],[63.3,0.35],[71,0.05],[83.8,0.35]],
 [[7.4,0.05],[9.6,0.3],[10.2,0.75],[13.1,0.05],[30.1,0.05],[35.5,0.05],[39.8,0.3],[44,0.05],[60.2,0.15],[61.7,0.1],[66.4,0.25],[72.2,0.45],[79.2,0.05],[94.4,0.4],[95.1,0.5],[98.5,0.05]],
 [[3.1,0.05],[6.9,0.75],[9.7,0.05],[17.3,0.3],[20.5,0.65],[43.5,0.45],[44.8,0.35],[46.3,0.25],[52.8,0.05],[57.9,0.05],[63.3,0.05],[72.2,0.1],[79.2,0.45],[81.8,0.05],[91.8,0.4],[95.4,0.05]],
 [[1.2,0.04],[4.3,0.04],[17.3,0.04],[19.3,0.04],[35.5,0.04],[37.8,0.04],[40.1,0.05],[46.3,0.45],[70.7,0.04],[88.7,0.04]],
 [[0.8,0.5],[10,0.05],[35.2,0.35],[40.1,0.05],[42.4,0.05],[59.4,0.05],[61.7,0.05],[85.6,0.15],[86.1,0.15],[94.9,0.2]],
 [[5.9,0.05],[10,0.55],[14.7,0.3],[17,0.5],[20.1,0.05],[35.2,0.05],[40.9,0.05],[46.3,0.05],[52.2,0.25],[57.9,0.45],[61.4,0.05],[69.4,0.05],[79.5,0.45],[81,0.55],[81.8,0.4],[94.9,0.35]],
 [[0.8,0.55],[4.3,0.25],[6.9,0.85],[8,0.3],[10,0.75],[11.6,0.7],[13.6,0.7],[14.7,0.5],[17.3,0.55],[19.8,0.75],[20.5,0.65],[23.1,0.65],[25.9,0.4],[27.8,0.45],[30.1,0.45],[35.2,0.35],[37.8,0.45],[39.8,0.4],[41.7,0.45],[43.5,0.5],[46.3,0.55],[48.3,0.5],[52.2,0.3],[54.8,0.45],[57.9,0.45],[59.9,0.4],[61.4,0.35],[63.3,0.4],[67.9,0.45],[69.4,0.45],[72.2,0.45],[74.8,0.3],[79.2,0.55],[80.2,0.45],[81.8,0.5],[83.8,0.45],[88.7,0.3],[91.8,0.4],[94.4,0.5],[95.1,0.55],[96.8,0.45],[98.8,0.3]]
];

// ---------------- STYLES / LAYOUT ----------------
const FONT = '"Liberation Sans", Arial, sans-serif';
Chart.defaults.font.family = FONT;
Chart.defaults.animation = false;
const lineColors = {'GV':'#7030A0','MII':'#C00000','Zygote':'#ED7D31','2-cell':'#70AD47','8-cell':'#00B0F0','Blastocyst':'#4472C4'};
const legendColors = {'GV':'#7030A0','MII':'#C00000','Zygote':'#ED7D31','2-cell':'#00B050','8-cell':'#00B0F0','Blastocyst':'#5B9BD5'};
const drawOrder = ['Zygote','MII','GV','8-cell','2-cell','Blastocyst']; // first = on top
const page = document.getElementById('page');

function txt(html, x, y, o) {
  o = o || {};
  const d = document.createElement('div');
  d.className = 't'; d.innerHTML = html;
  d.style.left = x + 'px'; d.style.top = y + 'px';
  if (o.size) d.style.fontSize = o.size + 'px';
  if (o.bold) d.style.fontWeight = 'bold';
  if (o.color) d.style.color = o.color;
  let tr = o.align === 'right' ? 'translate(-100%,-50%)' : (o.align === 'left' ? 'translate(0,-50%)' : 'translate(-50%,-50%)');
  if (o.rot) tr += ' rotate(-90deg)';
  d.style.transform = tr;
  page.appendChild(d);
}
function mkCanvas(left, top, w, h) {
  const c = document.createElement('canvas');
  c.width = w; c.height = h;
  c.style.left = left + 'px'; c.style.top = top + 'px';
  c.style.width = w + 'px'; c.style.height = h + 'px';
  page.appendChild(c);
  return c;
}

// ---- line charts ----
function lineChart(p) {
  const YW = 45, PT = 8, PR = 4, PB = 3;
  const w = (p.right - p.left) + YW + PR, h = (p.bottom - p.top) + PT + PB;
  const c = mkCanvas(p.left - YW, p.top - PT, w, h);
  const n = p.series['GV'][0].length;
  const datasets = [];
  drawOrder.forEach(st => {
    p.series[st].forEach(rep => {
      datasets.push({data: rep, borderColor: lineColors[st], borderWidth: 1.5, pointRadius: 0, tension: 0.12, fill: false});
    });
  });
  const tickVals = p.ticks.map(parseFloat);
  new Chart(c, {
    type: 'line',
    data: {labels: Array.from({length: n}, (_, i) => i), datasets},
    options: {
      responsive: false, animation: false, events: [],
      layout: {padding: {top: PT, right: PR, bottom: PB, left: 0}},
      plugins: {legend: {display: false}, tooltip: {enabled: false}},
      scales: {
        x: {type: 'category', offset: false, ticks: {display: false}, grid: {display: false},
            border: {display: true, color: '#000', width: 1}, afterFit: s => { s.height = 0; }},
        y: {min: tickVals[0], max: tickVals[tickVals.length - 1],
            afterBuildTicks: s => { s.ticks = tickVals.map(v => ({value: v})); },
            ticks: {callback: (v, i) => p.ticks[i], font: {family: FONT, size: 11}, color: '#000', padding: 3, autoSkip: false},
            grid: {drawOnChartArea: false, color: '#000', tickLength: 4},
            border: {color: '#000', width: 1},
            afterFit: s => { s.width = YW; }}
      }
    }
  });
}

// ---- gene structure bars ----
const arrowPlugin = {
  id: 'arrowHead',
  afterDatasetsDraw(chart, args, opts) {
    const last = chart.getDatasetMeta(chart.data.datasets.length - 1).data[0];
    const x = last.x, y = last.y, ctx = chart.ctx;
    ctx.save(); ctx.fillStyle = '#000';
    if (opts.style === 'line') {
      ctx.fillRect(x, y - 1, 9, 2);
      ctx.beginPath(); ctx.moveTo(x + 7, y - 4); ctx.lineTo(x + 14, y); ctx.lineTo(x + 7, y + 4); ctx.closePath(); ctx.fill();
    } else {
      ctx.beginPath(); ctx.moveTo(x - 3, y - 5); ctx.lineTo(x + 6, y); ctx.lineTo(x - 3, y + 5); ctx.closePath(); ctx.fill();
    }
    ctx.restore();
  }
};
function geneChart(g) {
  const PL = 1, PR = 15;
  const c = mkCanvas(g.start - PL, g.y - 8, (g.end - g.start) + PL + PR, 16);
  const total = g.segs.reduce((a, b) => a + b, 0);
  new Chart(c, {
    type: 'bar',
    data: {labels: [''], datasets: g.segs.map((v, i) => ({data: [v], backgroundColor: g.colors[i], barThickness: g.thick[i], borderWidth: 0}))},
    options: {
      indexAxis: 'y', responsive: false, animation: false, events: [],
      layout: {padding: {left: PL, right: PR, top: 0, bottom: 0}},
      plugins: {legend: {display: false}, tooltip: {enabled: false}, arrowHead: {style: g.arrow}},
      scales: {x: {display: false, stacked: true, min: 0, max: total}, y: {display: false, stacked: true}}
    },
    plugins: [arrowPlugin]
  });
}

// ---- motif tracks ----
function trackChart(x0, x1, base, peaks, color, thick) {
  const c = mkCanvas(x0 - 1, base - 19, (x1 - x0) + 2, 20);
  new Chart(c, {
    type: 'bar',
    data: {datasets: [{data: peaks.map(p => ({x: p[0], y: p[1]})), backgroundColor: color, barThickness: thick, borderWidth: 0}]},
    options: {
      responsive: false, animation: false, events: [],
      layout: {padding: {left: 1, right: 1, top: 1, bottom: 0}},
      plugins: {legend: {display: false}, tooltip: {enabled: false}},
      scales: {
        x: {type: 'linear', min: 0, max: 100, offset: false, ticks: {display: false}, grid: {display: false},
            border: {color: '#d4d4d4', width: 1}, afterFit: s => { s.height = 0; }},
        y: {min: 0, max: 1, ticks: {display: false}, grid: {display: false},
            border: {color: '#444', width: 1}, afterFit: s => { s.width = 0; }}
      }
    }
  });
}

// ---------------- BUILD ----------------
const linePanels = [
  {left: 71, right: 288, top: 19, bottom: 127, ticks: mtaTicks,
   series: {'GV': mtaGV, 'MII': mtaMII, 'Zygote': mtaZygote, '2-cell': mta2cell, '8-cell': mta8cell, 'Blastocyst': mtaBlast}},
  {left: 356, right: 573, top: 19, bottom: 128, ticks: mervlTicks,
   series: {'GV': mervlGV, 'MII': mervlMII, 'Zygote': mervlZygote, '2-cell': mervl2cell, '8-cell': mervl8cell, 'Blastocyst': mervlBlast}},
  {left: 637, right: 858, top: 16, bottom: 126, ticks: l1mdTicks,
   series: {'GV': l1mdGV, 'MII': l1mdMII, 'Zygote': l1mdZygote, '2-cell': l1md2cell, '8-cell': l1md8cell, 'Blastocyst': l1mdBlast}},
  {left: 71, right: 292, top: 561, bottom: 668, ticks: orr0Ticks,
   series: {'GV': orr0GV, 'MII': orr0MII, 'Zygote': orr0Zygote, '2-cell': orr02cell, '8-cell': orr08cell, 'Blastocyst': orr0Blast}},
  {left: 356, right: 577, top: 561, bottom: 668, ticks: orr1Ticks,
   series: {'GV': orr1GV, 'MII': orr1MII, 'Zygote': orr1Zygote, '2-cell': orr12cell, '8-cell': orr18cell, 'Blastocyst': orr1Blast}}
];
linePanels.forEach(lineChart);

const LTRc = ['#000', '#00B050', '#000'], LTRt = [6, 10, 6];
geneChart({start: 69, end: 289, y: 138, segs: mtaGene, colors: LTRc, thick: LTRt, arrow: 'head'});
geneChart({start: 355, end: 577, y: 137, segs: mervlGene, colors: LTRc, thick: LTRt, arrow: 'head'});
geneChart({start: 637, end: 853, y: 137, segs: l1mdGene, colors: ['#808080', '#ED7D31', '#808080'], thick: [10, 10, 10], arrow: 'line'});
geneChart({start: 71, end: 291, y: 677, segs: orr0Gene, colors: LTRc, thick: LTRt, arrow: 'head'});
geneChart({start: 356, end: 577, y: 677, segs: orr1Gene, colors: LTRc, thick: LTRt, arrow: 'head'});

// motif panels
const motifColor = (k, alpha) => k === 11 ? 'rgba(255,0,0,' + alpha + ')' : (k === 12 ? 'rgba(0,0,255,' + alpha + ')' : 'rgba(0,0,0,' + alpha + ')');
const motifPanels = [
  {x0: 72, x1: 285, base0: 197, peaks: mtaPeaks, thick: 2, alpha: 1, labels: true},
  {x0: 357, x1: 573, base0: 197, peaks: mervlPeaks, thick: 1.2, alpha: 0.8, labels: false},
  {x0: 641, x1: 858, base0: 197, peaks: l1mdPeaks, thick: 1.2, alpha: 0.65, labels: false},
  {x0: 73, x1: 289, base0: 740, peaks: orr0Peaks, thick: 2, alpha: 1, labels: true},
  {x0: 357, x1: 573, base0: 740, peaks: orr1Peaks, thick: 2, alpha: 1, labels: false}
];
motifPanels.forEach(mp => {
  motifNames.forEach((name, k) => {
    const base = Math.round(mp.base0 + k * 25.7);
    trackChart(mp.x0, mp.x1, base, mp.peaks[k], motifColor(k, mp.alpha), mp.thick);
    if (mp.labels) {
      const col = k === 11 ? '#FF0000' : (k === 12 ? '#00B0F0' : '#000');
      txt(name, 63, base - 6, {align: 'right', color: col});
    }
  });
});

// titles
txt('MTA', 168, 7, {bold: true, size: 13});
txt('MERVL', 467, 7, {bold: true, size: 13});
txt('L1Md_T', 758, 7, {bold: true, size: 13});
txt('ORR1A0', 164, 543, {bold: true, size: 13});
txt('ORR1A1', 461, 552, {bold: true, size: 13});

// axis titles
txt('m<sup style="font-size:8px;line-height:0">6</sup>A signal density', 39, 72, {size: 12, rot: true});
txt('m<sup style="font-size:8px;line-height:0">6</sup>A signal density', 39, 613, {size: 12, rot: true});
txt('Motif frequency (0.0-1.0)', 8, 336, {size: 12, rot: true});
txt('Motif frequency (0.0-1.0)', 8, 878, {size: 12, rot: true});

// gene labels
[[93,'LTR','(~400 bp)'],[179,'Internal','(~1.1 kb)'],[262,'LTR','(~400 bp)']].forEach(a => { txt(a[1], a[0], 148); txt(a[2], a[0], 162); });
[[362,'LTR','(~500 bp)'],[478,'Internal','(~5.5 kb)'],[568,'LTR','(~500 bp)']].forEach(a => { txt(a[1], a[0], 148); txt(a[2], a[0], 162); });
txt('upstream', 639, 148); txt('(500 bp)', 636, 162);
txt('L1Md_T', 750, 148); txt('(~6.5 kb)', 750, 162);
txt('down', 852, 148); txt('(500 bp)', 847, 162);
[[87,'LTR','(~350 bp)'],[189,'Internal','(~1.8 kb)'],[272,'LTR','(~350 bp)']].forEach(a => { txt(a[1], a[0], 690); txt(a[2], a[0], 703); });
[[372,'LTR','(~350 bp)'],[474,'Internal','(~1.8 kb)'],[557,'LTR','(~350 bp)']].forEach(a => { txt(a[1], a[0], 690); txt(a[2], a[0], 703); });

// legend
const legendPos = [['GV', 665, 561, 677], ['MII', 716, 561, 726], ['Zygote', 768, 561, 782],
                   ['2-cell', 665, 573, 678], ['8-cell', 720, 573, 731], ['Blastocyst', 771, 573, 782]];
legendPos.forEach(l => {
  const d = document.createElement('div'); d.className = 'dot';
  d.style.left = l[1] + 'px'; d.style.top = l[2] + 'px'; d.style.background = legendColors[l[0]];
  page.appendChild(d);
  txt(l[0], l[3], l[2], {align: 'left'});
});
</script>
</body></html>
